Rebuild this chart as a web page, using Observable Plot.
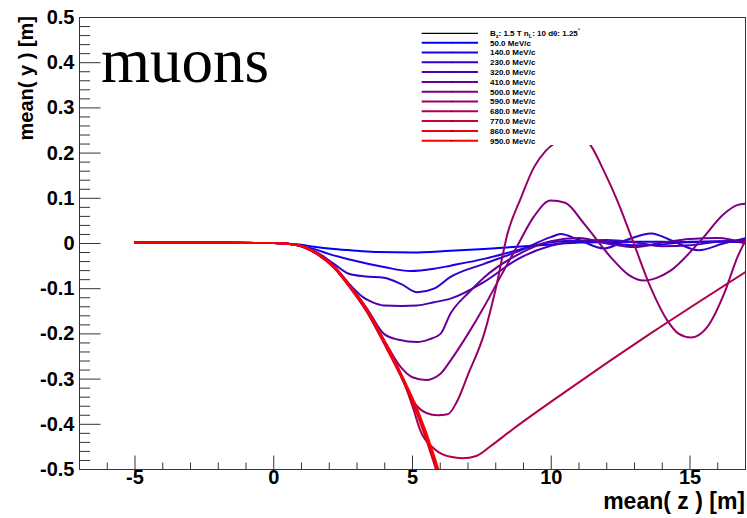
<!DOCTYPE html>
<html><head><meta charset="utf-8">
<script src="https://cdn.jsdelivr.net/npm/d3@7"></script>
<script src="https://cdn.jsdelivr.net/npm/@observablehq/plot@0.6"></script>
<style>body{margin:0;background:#fff} svg{display:block}</style>
</head><body><div id="chart"></div>
<script>
// momenta (MeV/c) and their line colours
const momenta = [50, 140, 230, 320, 410, 500, 590, 680, 770, 860, 950];
const colors = ["#0000ff", "#1a00e6", "#3300cc", "#4d00b3", "#660099", "#800080",
                "#990066", "#b3004d", "#cc0033", "#e6001a", "#ff0000"];

// common flat part before the field region: [z, y]
const flat = [[-5, 0.002], [-2.5, 0.002], [0, 0.001], [0.5, -0.0005]];

const s50 = [[1, -0.003], [1.45, -0.007], [2.17, -0.012], [3, -0.016], [3.73, -0.019], [5, -0.02],
  [6.37, -0.016], [7.58, -0.012], [8.78, -0.007], [9.98, -0.002], [11, 0.002], [12, 0.003],
  [13, 0.004], [14, 0.004], [15, 0.003], [16, 0.004], [17, 0.004]];
const s140 = [[1, -0.005], [1.5, -0.013], [1.98, -0.023], [2.77, -0.036], [3.97, -0.052],
  [4.93, -0.061], [5.77, -0.056], [6.37, -0.049], [7.58, -0.034], [8.78, -0.015], [9.98, 0.003],
  [11, 0.006], [12, 0.002], [13, -0.004], [14, -0.002], [15, 0.004], [16, 0.005], [17, 0.002]];
const s230 = [[1, -0.006], [1.57, -0.02], [2.17, -0.045], [2.71, -0.067], [3.3, -0.073],
  [3.97, -0.076], [4.6, -0.09], [5.17, -0.108], [5.77, -0.1], [6.37, -0.074], [7.58, -0.045],
  [8.78, -0.018], [9.98, 0.014], [10.34, 0.021], [11, 0.008], [11.9, -0.011], [12.8, 0.01],
  [13.6, 0.022], [14.4, 0.005], [15.3, -0.015], [16.2, 0.0], [17, 0.012]];
const s320 = [[1, -0.006], [1.57, -0.022], [2.17, -0.05], [2.77, -0.093], [3.2, -0.118],
  [3.49, -0.128], [3.97, -0.137], [4.6, -0.138], [5.17, -0.137], [5.77, -0.13], [6.37, -0.122],
  [7.58, -0.085], [8.78, -0.035], [9.98, -0.005], [11, 0.006], [12, 0.008], [13, 0.003],
  [14, -0.006], [15, -0.004], [16, 0.004], [17, 0.008]];
const s410 = [[1, -0.006], [1.57, -0.023], [2.17, -0.051], [2.77, -0.095], [3.37, -0.145],
  [3.97, -0.2], [4.5, -0.213], [5.17, -0.218], [5.6, -0.212], [6.01, -0.2], [6.37, -0.155],
  [7, -0.11], [7.58, -0.075], [8.78, -0.025], [9.98, 0.005], [11, 0.012], [12, 0.0],
  [13, -0.008], [14, 0.002], [15, 0.01], [16, 0.012], [17, 0.0]];
const s500 = [[1, -0.006], [1.57, -0.023], [2.17, -0.052], [2.77, -0.097], [3.37, -0.147],
  [3.97, -0.213], [4.57, -0.273], [5.0, -0.296], [5.47, -0.302], [6.01, -0.288], [6.37, -0.259],
  [7.0, -0.2], [7.58, -0.14], [8.2, -0.07], [8.78, -0.005], [9.38, 0.06], [9.98, 0.095],
  [10.5, 0.09], [11.18, 0.044], [12.14, -0.03], [12.8, -0.07], [13.34, -0.082], [13.8, -0.076],
  [14.3, -0.06], [15.39, 0.007], [16.23, 0.066], [16.7, 0.085], [17, 0.088]];
const s590 = [[1, -0.006], [1.57, -0.023], [2.17, -0.052], [2.77, -0.097], [3.37, -0.148],
  [3.97, -0.215], [4.57, -0.288], [5.05, -0.351], [5.5, -0.375], [5.9, -0.38], [6.27, -0.378],
  [6.6, -0.35], [7.0, -0.29], [7.58, -0.2], [8.0, -0.1], [8.42, 0.021], [8.9, 0.1], [9.38, 0.169],
  [9.8, 0.205], [10.2, 0.225], [10.8, 0.245], [11.42, 0.217], [11.9, 0.16], [12.38, 0.095],
  [12.98, -0.001], [13.58, -0.097], [14.18, -0.17], [14.6, -0.2], [15.03, -0.208],
  [15.62, -0.185], [16.23, -0.111], [16.71, -0.03], [17, 0.007]];
const s680 = [[1, -0.006], [1.57, -0.023], [2.17, -0.052], [2.77, -0.097], [3.37, -0.148],
  [3.97, -0.215], [4.57, -0.288], [5.0, -0.36], [5.29, -0.415], [5.8, -0.455], [6.37, -0.472],
  [6.8, -0.475], [7.3, -0.47], [7.8, -0.449], [8.57, -0.413], [10.58, -0.325], [13.58, -0.199],
  [17, -0.063]];
const s770 = [[1, -0.006], [1.57, -0.024], [2.17, -0.054], [2.77, -0.1], [3.37, -0.153],
  [3.97, -0.221], [4.57, -0.293], [5.17, -0.378], [5.77, -0.485], [5.95, -0.52]];
const s860 = [[1, -0.006], [1.57, -0.023], [2.17, -0.053], [2.77, -0.098], [3.37, -0.15],
  [3.97, -0.218], [4.57, -0.29], [5.17, -0.372], [5.77, -0.476], [5.99, -0.52]];
const s950 = [[1, -0.005], [1.57, -0.022], [2.17, -0.051], [2.77, -0.096], [3.37, -0.147],
  [3.97, -0.214], [4.57, -0.286], [5.17, -0.366], [5.77, -0.468], [6.03, -0.52]];
const series = [s50, s140, s230, s320, s410, s500, s590, s680, s770, s860, s950];

// axis ticks and labels
const xMajor = [-5, 0, 5, 10, 15];
const xLabels = ["-5", "0", "5", "10", "15"];
const xMinor = d3.range(-6, 17).filter(v => !xMajor.includes(v));
const yMajor = [0.5, 0.4, 0.3, 0.2, 0.1, 0, -0.1, -0.2, -0.3, -0.4, -0.5];
const yLabels = ["0.5", "0.4", "0.3", "0.2", "0.1", "0", "-0.1", "-0.2", "-0.3", "-0.4", "-0.5"];
const yMinor = d3.range(-24, 25).filter(k => k % 5 !== 0).map(k => k / 50);

const legendLabels = momenta.map(p => p.toFixed(1) + " MeV/c");

const rows = series.flatMap((s, i) => flat.concat(s).map(([z, y]) => ({z, y, p: momenta[i]})));

const tickSym = (dx, dy) => ({draw(ctx) { ctx.moveTo(0, 0); ctx.lineTo(dx, dy); }});
const font = "Liberation Sans, Arial, Helvetica, sans-serif";

const chart = Plot.plot({
  width: 747, height: 518,
  marginLeft: 79, marginRight: 2, marginTop: 17, marginBottom: 49,
  x: {domain: [-7, 17], axis: null},
  y: {domain: [-0.5, 0.5], axis: null},
  color: {type: "ordinal", domain: momenta, range: colors},
  style: {fontFamily: font, background: "#fff", overflow: "visible"},
  marks: [
    Plot.line(rows, {x: "z", y: "y", z: "p", stroke: "p", strokeWidth: 2, curve: "monotone-x", clip: true}),
    Plot.dot(xMajor, {x: d => d, frameAnchor: "bottom", symbol: tickSym(0, -14), fill: "none", stroke: "#333", strokeWidth: 1}),
    Plot.dot(xMinor, {x: d => d, frameAnchor: "bottom", symbol: tickSym(0, -7), fill: "none", stroke: "#333", strokeWidth: 1}),
    Plot.dot(yMajor, {y: d => d, frameAnchor: "left", symbol: tickSym(21, 0), fill: "none", stroke: "#333", strokeWidth: 1}),
    Plot.dot(yMinor, {y: d => d, frameAnchor: "left", symbol: tickSym(10.5, 0), fill: "none", stroke: "#333", strokeWidth: 1}),
    Plot.frame({stroke: "#333", strokeWidth: 1}),
    Plot.text(xMajor, {x: d => d, frameAnchor: "bottom", dy: 14, text: (d, i) => xLabels[i],
      fontSize: 20, fontWeight: "bold", fill: "#000"}),
    Plot.text(yMajor, {y: d => d, frameAnchor: "left", dx: -5, textAnchor: "end", text: (d, i) => yLabels[i],
      fontSize: 20, fontWeight: "bold", fill: "#000"})
  ]
});
document.getElementById("chart").appendChild(chart);

// overlays: axis titles, big label, legend
const svg = d3.select(chart);
svg.append("text").attr("x", 745).attr("y", 509).attr("text-anchor", "end")
  .attr("font-family", font).attr("font-weight", "bold").attr("font-size", 23).text("mean( z ) [m]");
svg.append("text").attr("transform", "translate(33,16) rotate(-90)").attr("text-anchor", "end")
  .attr("font-family", font).attr("font-weight", "bold").attr("font-size", 20).text("mean( y ) [m]");
svg.append("text").attr("x", 101).attr("y", 82).attr("text-anchor", "start")
  .attr("font-family", "Liberation Serif, Times New Roman, serif").attr("font-size", 63).text("muons");

const lg = svg.append("g").attr("font-family", font).attr("font-weight", "bold").attr("font-size", 8)
  .attr("text-anchor", "start");
lg.append("rect").attr("x", 414).attr("y", 24).attr("width", 196).attr("height", 121).attr("fill", "#fff");
const hy = 33.3;
lg.append("line").attr("x1", 421.7).attr("x2", 478).attr("y1", hy).attr("y2", hy).attr("stroke", "#000").attr("stroke-width", 1.2);
const ht = lg.append("text").attr("x", 490).attr("y", hy).attr("dy", "0.35em").attr("text-anchor", "start");
ht.append("tspan").text("B");
ht.append("tspan").attr("font-size", 5.5).attr("dy", 2).text("z");
ht.append("tspan").attr("dy", -2).text(": 1.5 T n");
ht.append("tspan").attr("font-size", 5.5).attr("dy", 2).text("L");
ht.append("tspan").attr("dy", -2).text(": 10 d\u03b8: 1.25");
ht.append("tspan").attr("font-size", 6).attr("dy", -4).text("\u00b0");
legendLabels.forEach((lab, i) => {
  const y = 42.7 + i * 9.8;
  lg.append("line").attr("x1", 421.7).attr("x2", 478).attr("y1", y).attr("y2", y)
    .attr("stroke", colors[i]).attr("stroke-width", 2);
  lg.append("rect").attr("x", 451).attr("y", y - 0.5).attr("width", 1).attr("height", 1).attr("fill", "#000");
  lg.append("text").attr("x", 490).attr("y", y).attr("dy", "0.35em").attr("text-anchor", "start").text(lab);
});
</script></body></html>
